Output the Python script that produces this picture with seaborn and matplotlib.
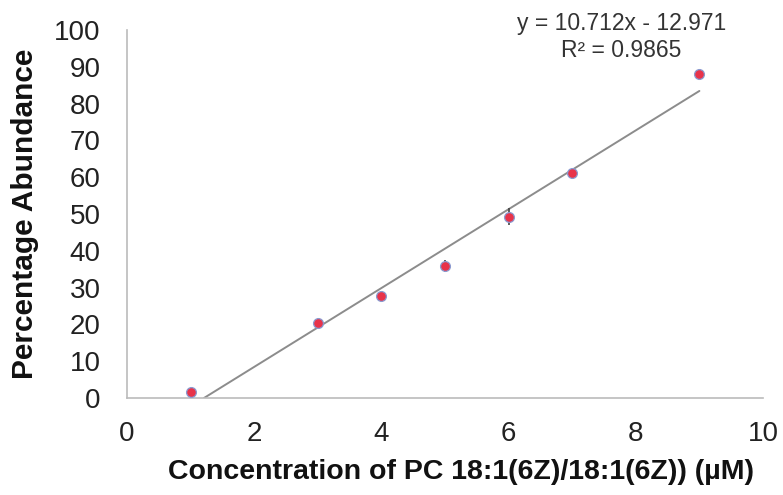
import numpy as np
import pandas as pd
import seaborn as sns
import matplotlib.pyplot as plt

# datos
conc = [1, 3, 4, 5, 6, 7, 9]
abundancia = [1.5, 20.3, 27.8, 35.9, 49.3, 61.1, 88.0]
error = [0.8, 0.8, 1.0, 1.6, 2.2, 1.0, 0.9]
pendiente = 10.712
ordenada = -12.971
r2 = 0.9865

sns.set_style("white")
plt.rcParams['font.family'] = ['Liberation Sans', 'DejaVu Sans']

fig = plt.figure(figsize=(7.83, 4.95), dpi=100)
ax = fig.add_axes([127 / 783, 97 / 495, 636 / 783, 368 / 495])

# linea de tendencia
x_lin = np.array([-ordenada / pendiente, max(conc)])
df_lin = pd.DataFrame({"x": x_lin, "y": pendiente * x_lin + ordenada})
sns.lineplot(data=df_lin, x="x", y="y", ax=ax, color="#8c8c8c", linewidth=1.4)

ax.errorbar(conc, abundancia, yerr=error, fmt="none", ecolor="#444444",
            elinewidth=1.2, capsize=0, zorder=3)

df = pd.DataFrame({"x": conc, "y": abundancia})
sns.scatterplot(data=df, x="x", y="y", ax=ax, color="#e8334a", edgecolor="#8a9ad0",
                linewidth=0.9, s=50, zorder=4)

ax.set_xlim(0, 10)
ax.set_ylim(0, 100)
ax.set_xticks(range(0, 11, 2))
ax.set_yticks(range(0, 101, 10))
ax.tick_params(axis="both", labelsize=20, colors="#222222", width=1,
               direction="out", color="#bbbbbb")
ax.tick_params(axis="x", length=6.5, pad=10)
ax.tick_params(axis="y", length=7, pad=12)
for lado in ["top", "right"]:
    ax.spines[lado].set_visible(False)
for lado in ["left", "bottom"]:
    ax.spines[lado].set_color("#bbbbbb")
    ax.spines[lado].set_linewidth(1.2)

ax.set_xlabel("Concentration of PC 18:1(6Z)/18:1(6Z)) (\u00b5M)", fontsize=20.5,
              fontweight="bold", color="#111111", labelpad=9)
ax.xaxis.label.set_x(0.525)
ax.set_ylabel("Percentage Abundance", fontsize=21.5, fontweight="bold", color="#111111",
              labelpad=11)

ax.text(7.77, 98.1, f"y = {pendiente}x - {abs(ordenada)}\nR\u00b2 = {r2}", ha="center",
        va="center", fontsize=16.5, color="#333333", linespacing=1.25, clip_on=False)

fig.savefig("out.png", dpi=100)
